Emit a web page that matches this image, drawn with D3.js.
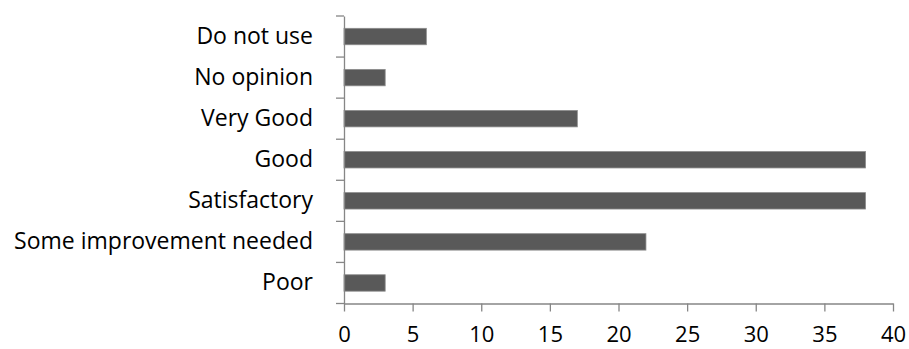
<!DOCTYPE html>
<html><head><meta charset="utf-8">
<script src="https://cdn.jsdelivr.net/npm/d3@7"></script>
<style>body{margin:0;background:#fff}svg{display:block}</style>
</head><body>
<svg id="c" width="909" height="349"></svg>
<script>
const categories = ["Do not use","No opinion","Very Good","Good","Satisfactory","Some improvement needed","Poor"];
const values = [6,3,17,38,38,22,3];
const xTicks = [0,5,10,15,20,25,30,35,40];

const svg = d3.select("#c");
const FONT = "'Open Sans', Lato, sans-serif";
const FS = 23;
const x = d3.scaleLinear().domain([0,40]).range([344,893]);
const y = d3.scaleBand().domain(categories).range([16,303.5]).paddingInner(0.6).paddingOuter(0.3);
const yb = d3.scaleBand().domain(categories).range([16,303.5]);
const axisColor = "#868686";

// bars
svg.append("g").selectAll("rect").data(categories).join("rect")
  .attr("x", x(0)).attr("y", d => y(d))
  .attr("width", (d,i) => x(values[i]) - x(0))
  .attr("height", y.bandwidth())
  .attr("fill", "#595959").attr("stroke", "#8c8c8c").attr("stroke-width", 0.8);

// y axis
const ya = d3.axisLeft(yb).tickSize(0).tickPadding(31);
const gy = svg.append("g").attr("transform", `translate(${x(0)},0)`).call(ya);
gy.select(".domain").attr("stroke", axisColor).attr("stroke-width", 1.3);
gy.selectAll("text").attr("font-family", FONT).attr("font-size", FS).attr("fill", "#000");
// category boundary ticks
const bounds = categories.map(d => yb(d)).concat([yb.range()[1]]);
gy.selectAll("line.b").data(bounds).join("line").attr("class","b")
  .attr("x1", -8).attr("x2", 0).attr("y1", d => d).attr("y2", d => d)
  .attr("stroke", axisColor).attr("stroke-width", 1.3);

// x axis
const xa = d3.axisBottom(x).tickValues(xTicks).tickSize(8).tickSizeOuter(0).tickPadding(15);
const gx = svg.append("g").attr("transform", `translate(0,${yb.range()[1]})`).call(xa);
gx.select(".domain").attr("stroke", axisColor).attr("stroke-width", 1.3);
gx.selectAll(".tick line").attr("stroke", axisColor).attr("stroke-width", 1.3);
gx.selectAll("text").attr("font-family", FONT).attr("font-size", 22).attr("fill", "#000");
</script>
</body></html>
